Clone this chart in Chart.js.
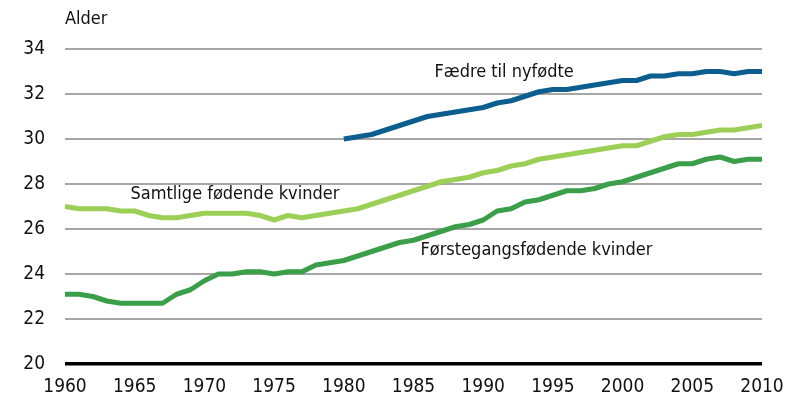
<!DOCTYPE html>
<html lang="no">
<head>
<meta charset="UTF-8">
<title>Alder ved fødsel</title>
<script src="https://cdn.jsdelivr.net/npm/chart.js"></script>
<style>
  html, body { margin: 0; padding: 0; background: #fff; }
  #wrap { width: 791px; height: 402px; }
</style>
</head>
<body>
<div id="wrap"><canvas id="chart" width="791" height="402"></canvas></div>
<script>
// År 1960-2010
const years = [
  1960, 1961, 1962, 1963, 1964, 1965, 1966, 1967, 1968, 1969,
  1970, 1971, 1972, 1973, 1974, 1975, 1976, 1977, 1978, 1979,
  1980, 1981, 1982, 1983, 1984, 1985, 1986, 1987, 1988, 1989,
  1990, 1991, 1992, 1993, 1994, 1995, 1996, 1997, 1998, 1999,
  2000, 2001, 2002, 2003, 2004, 2005, 2006, 2007, 2008, 2009, 2010
];

const samtlige = [
  27.0, 26.9, 26.9, 26.9, 26.8, 26.8, 26.6, 26.5, 26.5, 26.6,
  26.7, 26.7, 26.7, 26.7, 26.6, 26.4, 26.6, 26.5, 26.6, 26.7,
  26.8, 26.9, 27.1, 27.3, 27.5, 27.7, 27.9, 28.1, 28.2, 28.3,
  28.5, 28.6, 28.8, 28.9, 29.1, 29.2, 29.3, 29.4, 29.5, 29.6,
  29.7, 29.7, 29.9, 30.1, 30.2, 30.2, 30.3, 30.4, 30.4, 30.5, 30.6
];

const forstegangs = [
  23.1, 23.1, 23.0, 22.8, 22.7, 22.7, 22.7, 22.7, 23.1, 23.3,
  23.7, 24.0, 24.0, 24.1, 24.1, 24.0, 24.1, 24.1, 24.4, 24.5,
  24.6, 24.8, 25.0, 25.2, 25.4, 25.5, 25.7, 25.9, 26.1, 26.2,
  26.4, 26.8, 26.9, 27.2, 27.3, 27.5, 27.7, 27.7, 27.8, 28.0,
  28.1, 28.3, 28.5, 28.7, 28.9, 28.9, 29.1, 29.2, 29.0, 29.1, 29.1
];

// Fedre: tall fra 1980
const faedreYears = [
  1980, 1981, 1982, 1983, 1984, 1985, 1986, 1987, 1988, 1989,
  1990, 1991, 1992, 1993, 1994, 1995, 1996, 1997, 1998, 1999,
  2000, 2001, 2002, 2003, 2004, 2005, 2006, 2007, 2008, 2009, 2010
];
const faedre = [
  30.0, 30.1, 30.2, 30.4, 30.6, 30.8, 31.0, 31.1, 31.2, 31.3,
  31.4, 31.6, 31.7, 31.9, 32.1, 32.2, 32.2, 32.3, 32.4, 32.5,
  32.6, 32.6, 32.8, 32.8, 32.9, 32.9, 33.0, 33.0, 32.9, 33.0, 33.0
];

const seriesLabels = ['Fædre til nyfødte', 'Samtlige fødende kvinder', 'Førstegangsfødende kvinder'];
// plassering av tekstene (år, alder)
const labelPos = [[1986.5, 32.98], [1964.7, 27.56], [1985.5, 25.07]];

const FONT = '"Liberation Sans Narrow", "DejaVu Sans Condensed", "Liberation Sans", sans-serif';

function pts(xs, ys) {
  return xs.map((x, i) => ({ x: x, y: ys[i] }));
}

// tekster i plottet + "Alder"
const textPlugin = {
  id: 'texts',
  afterDraw(chart) {
    const ctx = chart.ctx;
    const x = chart.scales.x, y = chart.scales.y;
    ctx.save();
    ctx.fillStyle = '#111';
    ctx.font = '18px ' + FONT;
    ctx.textBaseline = 'middle';
    ctx.textAlign = 'left';
    seriesLabels.forEach((t, i) => {
      ctx.fillText(t, x.getPixelForValue(labelPos[i][0]), y.getPixelForValue(labelPos[i][1]));
    });
    ctx.fillText('Alder', chart.chartArea.left, 19);
    ctx.restore();
  }
};

new Chart(document.getElementById('chart'), {
  type: 'line',
  data: {
    datasets: [
      { data: pts(faedreYears, faedre), borderColor: '#0b5e8e' },
      { data: pts(years, samtlige), borderColor: '#9bcf55' },
      { data: pts(years, forstegangs), borderColor: '#3a9f48' }
    ]
  },
  options: {
    responsive: false,
    animation: false,
    devicePixelRatio: 1,
    layout: { padding: { top: 49, right: 29, left: 0, bottom: 0 } },
    elements: {
      point: { radius: 0 },
      line: { borderWidth: 5, tension: 0, borderJoinStyle: 'round', borderCapStyle: 'butt' }
    },
    plugins: {
      legend: { display: false },
      tooltip: { enabled: false }
    },
    scales: {
      x: {
        type: 'linear',
        min: 1960,
        max: 2010,
        grid: { display: false },
        border: { display: false },
        ticks: {
          stepSize: 5,
          padding: 4,
          color: '#111',
          font: { family: FONT, size: 19 },
          callback: v => String(v)
        },
        afterFit(s) { s.height = 38; }
      },
      y: {
        min: 20,
        max: 34,
        grid: {
          drawTicks: false,
          color: c => c.tick.value === 20 ? '#000' : '#a6a6a6',
          lineWidth: c => c.tick.value === 20 ? 3.5 : 2
        },
        border: { display: false },
        ticks: {
          stepSize: 2,
          padding: 20,
          color: '#111',
          font: { family: FONT, size: 19 }
        },
        afterFit(s) { s.width = 65; }
      }
    }
  },
  plugins: [textPlugin]
});
</script>
</body>
</html>
